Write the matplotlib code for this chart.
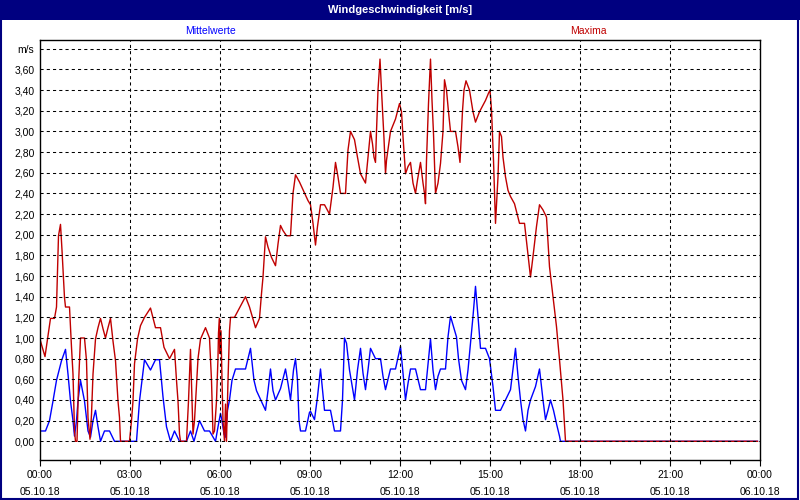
import matplotlib
matplotlib.use("Agg")
import matplotlib.pyplot as plt
from matplotlib.patches import Rectangle
from matplotlib.ticker import FixedLocator, MultipleLocator

# minutes since 05.10.18 00:00
t_max = [1, 10, 15, 21, 29, 33, 37, 41, 44, 49, 51, 59, 63, 66, 69, 71, 74, 77, 81, 89,
         93, 96, 100, 103, 106, 111, 116, 121, 126, 131, 136, 141, 146, 151, 156, 159,
         161, 179, 183, 186, 189, 195, 201, 209, 221, 231, 241, 248, 259, 269, 273, 276,
         279, 281, 293, 297, 301, 304, 306, 309, 316, 321, 331, 339, 343, 346, 349, 353,
         356, 357, 359, 360, 362, 364, 366, 369, 371, 373, 376, 379, 381, 389, 411, 419,
         431, 439, 443, 446, 451, 456, 463, 471, 476, 481, 486, 493, 501, 506, 511, 519,
         536, 541, 546, 551, 555, 561, 569, 579, 586, 591, 596, 601, 611, 616, 621, 629,
         635, 641, 651, 656, 661, 665, 668, 671, 673, 676, 680, 683, 688, 691, 693, 701,
         711, 719, 723, 726, 731, 736, 741, 746, 751, 755, 761, 766, 769, 771, 773, 777,
         781, 784, 787, 791, 796, 801, 806, 809, 813, 817, 821, 831, 836, 840, 845, 848,
         852, 859, 866, 871, 879, 891, 897, 900, 903, 907, 911, 914, 916, 919, 923, 926,
         931, 936, 941, 949, 959, 969, 975, 981, 986, 993, 999, 1006, 1013, 1019, 1026,
         1033, 1039, 1046, 1051, 1435]
v_max = [0.97, 0.82, 0.99, 1.19, 1.19, 1.30, 1.99, 2.10, 1.85, 1.39, 1.30, 1.30, 0.91,
         0.65, 0.10, 0.0, 0.0, 0.55, 1.0, 1.0, 0.78, 0.23, 0.02, 0.26, 0.65, 0.99, 1.10,
         1.19, 1.09, 1.0, 1.10, 1.19, 0.97, 0.78, 0.39, 0.23, 0.0, 0.0, 0.2, 0.39, 0.75,
         0.99, 1.12, 1.2, 1.29, 1.10, 1.10, 0.91, 0.80, 0.89, 0.59, 0.39, 0.07, 0.0, 0.0,
         0.39, 0.89, 0.39, 0.07, 0.2, 0.8, 0.99, 1.10, 1.0, 0.59, 0.07, 0.1, 0.39, 0.81,
         1.05, 1.19, 0.85, 1.07, 0.59, 0.2, 0.0, 0.36, 0.0, 0.59, 1.07, 1.2, 1.2, 1.40,
         1.30, 1.10, 1.19, 1.43, 1.59, 1.98, 1.88, 1.78, 1.70, 1.91, 2.09, 2.04, 1.99,
         1.99, 2.40, 2.58, 2.51, 2.33, 2.29, 2.11, 1.90, 2.08, 2.29, 2.29, 2.20, 2.46,
         2.70, 2.56, 2.40, 2.40, 2.82, 3.0, 2.92, 2.75, 2.59, 2.50, 2.75, 3.0, 2.88, 2.75,
         2.70, 3.0, 3.40, 3.70, 3.40, 2.93, 2.59, 2.72, 3.0, 3.12, 3.27, 3.19, 2.95, 2.59,
         2.66, 2.70, 2.50, 2.40, 2.53, 2.70, 2.50, 2.40, 2.30, 2.72, 3.27, 3.70, 3.30,
         2.98, 2.40, 2.50, 2.69, 3.0, 3.50, 3.40, 3.19, 3.0, 3.0, 2.85, 2.70, 3.20, 3.40,
         3.49, 3.40, 3.19, 3.09, 3.19, 3.30, 3.37, 3.40, 3.21, 2.72, 2.11, 2.37, 2.56,
         3.0, 2.95, 2.75, 2.56, 2.43, 2.37, 2.30, 2.11, 2.11, 1.85, 1.59, 1.79, 2.08,
         2.29, 2.24, 2.17, 1.69, 1.40, 1.11, 0.79, 0.40, 0.0, 0.0]

t_mean = [1, 11, 19, 26, 33, 43, 51, 56, 61, 66, 69, 73, 76, 81, 89, 96, 101, 106, 111,
          116, 121, 129, 139, 149, 193, 199, 209, 221, 231, 239, 246, 253, 261, 269, 279,
          293, 301, 308, 319, 329, 339, 351, 356, 361, 364, 368, 371, 375, 379, 384, 391,
          411, 421, 428, 433, 451, 456, 461, 466, 471, 481, 491, 496, 501, 507, 511, 515,
          518, 521, 531, 539, 541, 549, 555, 561, 569, 581, 589, 601, 605, 609, 613, 619,
          629, 635, 641, 646, 651, 656, 661, 671, 681, 686, 691, 701, 711, 721, 726, 731,
          736, 741, 751, 761, 771, 776, 781, 786, 791, 796, 801, 811, 816, 821, 827, 833,
          837, 843, 851, 856, 861, 866, 871, 876, 881, 891, 899, 906, 911, 921, 931, 941,
          946, 951, 956, 961, 966, 971, 976, 981, 991, 999, 1006, 1011, 1016, 1021, 1027,
          1033, 1039, 1041, 1435]
v_mean = [0.1, 0.1, 0.2, 0.39, 0.59, 0.78, 0.89, 0.65, 0.39, 0.2, 0.05, 0.2, 0.39, 0.59,
          0.39, 0.1, 0.04, 0.2, 0.3, 0.14, 0.0, 0.1, 0.1, 0.0, 0.0, 0.39, 0.79, 0.69,
          0.79, 0.79, 0.43, 0.14, 0.0, 0.1, 0.0, 0.0, 0.1, 0.0, 0.2, 0.1, 0.1, 0.0, 0.14,
          0.27, 0.2, 0.07, 0.04, 0.3, 0.4, 0.59, 0.70, 0.70, 0.90, 0.59, 0.49, 0.3, 0.49,
          0.70, 0.49, 0.4, 0.51, 0.70, 0.56, 0.4, 0.69, 0.8, 0.59, 0.2, 0.1, 0.1, 0.28,
          0.29, 0.21, 0.43, 0.70, 0.30, 0.30, 0.10, 0.10, 0.40, 1.0, 0.95, 0.69, 0.40,
          0.69, 0.90, 0.66, 0.50, 0.69, 0.90, 0.80, 0.80, 0.63, 0.50, 0.70, 0.70, 0.92,
          0.66, 0.40, 0.56, 0.70, 0.70, 0.50, 0.50, 0.75, 0.99, 0.69, 0.50, 0.63, 0.70,
          0.70, 1.01, 1.21, 1.11, 1.01, 0.80, 0.59, 0.50, 0.69, 0.95, 1.21, 1.50, 1.21,
          0.90, 0.90, 0.80, 0.53, 0.30, 0.30, 0.40, 0.50, 0.70, 0.90, 0.63, 0.40, 0.21,
          0.10, 0.30, 0.40, 0.53, 0.70, 0.40, 0.21, 0.30, 0.40, 0.30, 0.17, 0.05, 0.0, 0.0]

tick_minutes = [0, 180, 360, 540, 720, 900, 1080, 1260, 1440]
tick_labels = ["00:00\n05.10.18", "03:00\n05.10.18", "06:00\n05.10.18",
               "09:00\n05.10.18", "12:00\n05.10.18", "15:00\n05.10.18",
               "18:00\n05.10.18", "21:00\n05.10.18", "00:00\n06.10.18"]
y_values = [0.0, 0.2, 0.4, 0.6, 0.8, 1.0, 1.2, 1.4, 1.6, 1.8, 2.0,
            2.2, 2.4, 2.6, 2.8, 3.0, 3.2, 3.4, 3.6, 3.8]
y_labels = ["0,00", "0,20", "0,40", "0,60", "0,80", "1,00", "1,20", "1,40", "1,60",
            "1,80", "2,00", "2,20", "2,40", "2,60", "2,80", "3,00", "3,20", "3,40",
            "3,60", "m/s"]

navy = "#000080"
red = "#C00000"
blue = "#0000FF"
plt.rcParams["font.family"] = ["Liberation Sans", "DejaVu Sans"]

fig = plt.figure(figsize=(8, 5), dpi=100)
ax = fig.add_axes([0.05, 0.08, 0.9, 0.84])

ax.plot(t_mean, v_mean, color=blue, lw=1.0, zorder=3)
ax.plot(t_max, v_max, color=red, lw=1.0, zorder=4)

ax.set_xlim(0, 1440)
ax.set_ylim(-0.181, 3.885)

ax.xaxis.set_major_locator(FixedLocator(tick_minutes))
ax.set_xticklabels(tick_labels, fontsize=7.5, linespacing=1.9)
ax.xaxis.set_minor_locator(MultipleLocator(60))
ax.tick_params(axis="x", which="major", length=4, width=0.8, direction="out", pad=3)
ax.tick_params(axis="x", which="minor", length=3, width=0.8, direction="out")

ax.set_yticks(y_values)
ax.set_yticklabels(y_labels, fontsize=7.5)
ax.tick_params(axis="y", length=0, pad=4)

# dashed grid sits on top of the series, as in the original
for y in y_values:
    ax.axhline(y, color="black", lw=0.75, ls=(0, (3, 3)), zorder=5)
for m in tick_minutes[1:-1]:
    ax.axvline(m, color="black", lw=0.75, ls=(0, (3, 3)), zorder=5)

for s in ax.spines.values():
    s.set_linewidth(1.0)
    s.set_color("black")
    s.set_zorder(6)

# title bar and frame
fig.patches.append(Rectangle((0, 0.96), 1, 0.04, transform=fig.transFigure,
                             facecolor=navy, edgecolor="none", zorder=0))
fig.patches.append(Rectangle((0.001, 0.002), 0.997, 0.996, transform=fig.transFigure,
                             facecolor="none", edgecolor=navy, lw=1.5, zorder=5))
fig.text(0.5, 0.98, "Windgeschwindigkeit [m/s]", color="white", fontsize=8,
         fontweight="bold", ha="center", va="center")
fig.text(210 / 800, 1 - 31 / 500, "Mittelwerte", color=blue, fontsize=7.5,
         ha="center", va="center")
fig.text(588 / 800, 1 - 31 / 500, "Maxima", color=red, fontsize=7.5,
         ha="center", va="center")

fig.savefig("out.png", dpi=100)
